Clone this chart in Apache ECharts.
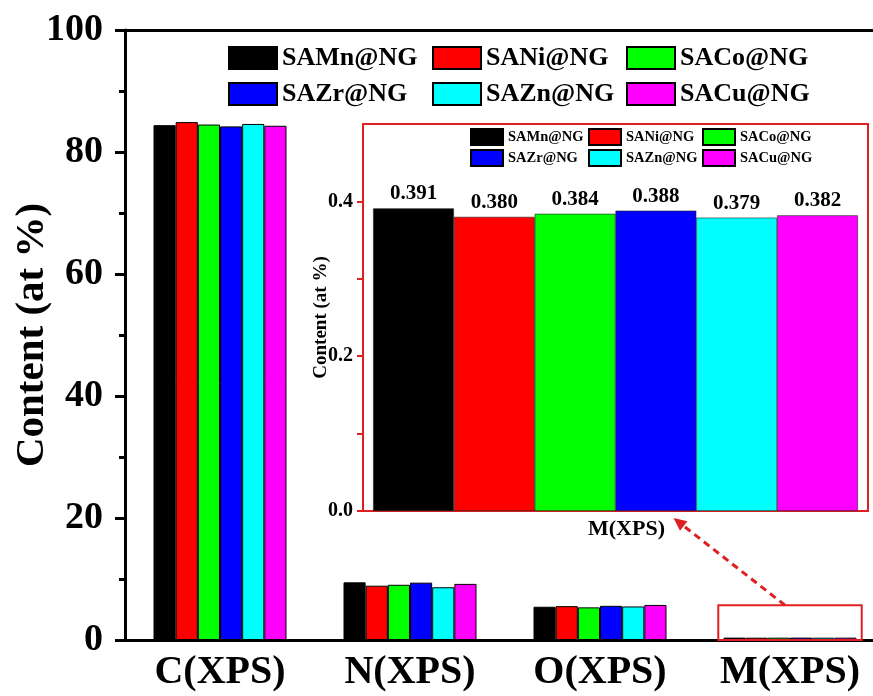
<!DOCTYPE html>
<html>
<head>
<meta charset="utf-8">
<script src="https://cdn.jsdelivr.net/npm/echarts@6/dist/echarts.min.js"></script>
<style>html,body{margin:0;padding:0;background:#fff}#c{width:873px;height:696px}</style>
</head>
<body>
<div id="c"></div>
<script>
const categories = ['C(XPS)', 'N(XPS)', 'O(XPS)', 'M(XPS)'];
const seriesNames = ['SAMn@NG', 'SANi@NG', 'SACo@NG', 'SAZr@NG', 'SAZn@NG', 'SACu@NG'];
const colors = ['#000000', '#ff0000', '#00ff00', '#0000ff', '#00ffff', '#ff00ff'];
const SAMn = [84.4, 9.45, 5.45, 0.391];
const SANi = [84.9, 8.9, 5.55, 0.380];
const SACo = [84.5, 9.05, 5.35, 0.384];
const SAZr = [84.2, 9.4, 5.6, 0.388];
const SAZn = [84.6, 8.65, 5.5, 0.379];
const SACu = [84.3, 9.2, 5.75, 0.382];
const mainValues = [SAMn, SANi, SACo, SAZr, SAZn, SACu];
const insetCategories = ['M(XPS)'];
const insetValues = [0.391, 0.380, 0.384, 0.388, 0.379, 0.382];
const mainTickLabels = ['0', '20', '40', '60', '80', '100'];
const insetTickLabels = ['0.0', '0.2', '0.4'];
const boxTopValue = 5.7;

const FONT = "'Liberation Serif','Times New Roman',serif";
const chart = echarts.init(document.getElementById('c'), null, {renderer: 'canvas'});

const series = [];
seriesNames.forEach((n, i) => {
  series.push({
    name: n, type: 'bar', xAxisIndex: 0, yAxisIndex: 0,
    data: mainValues[i], barGap: '0%', barCategoryGap: '30%',
    itemStyle: {color: colors[i], borderColor: '#000', borderWidth: 1},
    emphasis: {disabled: true}
  });
});
seriesNames.forEach((n, i) => {
  series.push({
    name: n, type: 'bar', xAxisIndex: 2, yAxisIndex: 1,
    data: [insetValues[i]], barGap: '0%', barCategoryGap: '4%',
    itemStyle: {color: colors[i], borderColor: '#222', borderWidth: 0.6},
    label: {show: true, position: 'top', distance: 4, fontFamily: FONT, fontWeight: 'bold', fontSize: 21, color: '#000',
      formatter: p => p.value.toFixed(3)},
    emphasis: {disabled: true}
  });
});

// legends laid out as 3 columns of 2 rows
const mainCols = [228, 432, 626];
const insetCols = [470, 588, 702];
const legends = [];
for (let c = 0; c < 3; c++) {
  legends.push({data: [seriesNames[c], seriesNames[c + 3]], orient: 'vertical', left: mainCols[c], top: 45, padding: 0,
    itemWidth: 48, itemHeight: 22, itemGap: 10, icon: 'rect', selectedMode: false,
    textStyle: {fontFamily: FONT, fontWeight: 'bold', fontSize: 26, color: '#000'}});
  legends.push({data: [seriesNames[c], seriesNames[c + 3]], orient: 'vertical', left: insetCols[c], top: 128, padding: 0,
    itemWidth: 32, itemHeight: 16, itemGap: 3, icon: 'rect', selectedMode: false,
    textStyle: {fontFamily: FONT, fontWeight: 'bold', fontSize: 14.5, color: '#000'}});
}

chart.setOption({
  animation: false,
  backgroundColor: '#fff',
  grid: [
    {left: 125, top: 30, width: 760, bottom: 56, outerBoundsMode: 'none', containLabel: false},
    {left: 363, top: 124, right: 5, bottom: 185, outerBoundsMode: 'none', containLabel: false,
     show: true, backgroundColor: '#fff', borderWidth: 0}
  ],
  legend: legends,
  xAxis: [
    {type: 'category', gridIndex: 0, data: categories, position: 'bottom', z: 5,
     axisLine: {onZero: false, lineStyle: {color: '#000', width: 3}}, axisTick: {show: false},
     axisLabel: {fontFamily: FONT, fontWeight: 'bold', fontSize: 40, color: '#000', margin: 13}},
    {type: 'category', gridIndex: 0, data: categories, position: 'top',
     axisLine: {onZero: false, lineStyle: {color: '#000', width: 3}}, axisTick: {show: false}, axisLabel: {show: false}},
    {type: 'category', gridIndex: 1, data: insetCategories, position: 'bottom',
     axisLine: {onZero: false, lineStyle: {color: '#e02020', width: 2}}, axisTick: {show: false},
     axisLabel: {fontFamily: FONT, fontWeight: 'bold', fontSize: 22, color: '#000', margin: 7, padding: [0, 0, 0, 22]}},
    {type: 'category', gridIndex: 1, data: insetCategories, position: 'top',
     axisLine: {onZero: false, lineStyle: {color: '#e02020', width: 2}}, axisTick: {show: false}, axisLabel: {show: false}}
  ],
  yAxis: [
    {type: 'value', gridIndex: 0, min: 0, max: 100, interval: 20,
     name: 'Content (at %)', nameLocation: 'middle', nameRotate: 90, nameGap: 72, nameMoveOverlap: false,
     nameTextStyle: {fontFamily: FONT, fontWeight: 'bold', fontSize: 41, color: '#000'},
     axisLine: {show: true, onZero: false, lineStyle: {color: '#000', width: 3}},
     axisTick: {show: true, length: 10, lineStyle: {color: '#000', width: 3}},
     minorTick: {show: true, splitNumber: 2, length: 6, lineStyle: {color: '#000', width: 3}},
     splitLine: {show: false},
     axisLabel: {fontFamily: FONT, fontWeight: 'bold', fontSize: 38, color: '#000', margin: 22,
       formatter: v => mainTickLabels.indexOf(String(Math.round(v))) >= 0 ? String(Math.round(v)) : ''}},
    {type: 'value', gridIndex: 1, min: 0, max: 0.5, interval: 0.1,
     name: 'Content (at %)', nameLocation: 'middle', nameRotate: 90, nameGap: 32, nameMoveOverlap: false,
     nameTextStyle: {fontFamily: FONT, fontWeight: 'bold', fontSize: 19, color: '#000'},
     axisLine: {show: true, onZero: false, lineStyle: {color: '#e02020', width: 2}},
     axisTick: {show: true, length: 6, lineStyle: {color: '#e02020', width: 2}},
     splitLine: {show: false},
     axisLabel: {fontFamily: FONT, fontWeight: 'bold', fontSize: 20, color: '#000', margin: 10, showMaxLabel: false,
       formatter: v => { const s = v.toFixed(1); return insetTickLabels.indexOf(s) >= 0 ? s : ''; }}},
    {type: 'value', gridIndex: 1, min: 0, max: 0.5, position: 'right',
     axisLine: {show: true, onZero: false, lineStyle: {color: '#e02020', width: 2}},
     axisTick: {show: false}, axisLabel: {show: false}, splitLine: {show: false}}
  ],
  series: series
});

// annotation: red box around M(XPS) in main chart and dashed arrow to inset
const pBottom = chart.convertToPixel({xAxisIndex: 0, yAxisIndex: 0}, ['M(XPS)', 0]);
const pTop = chart.convertToPixel({xAxisIndex: 0, yAxisIndex: 0}, ['M(XPS)', boxTopValue]);
const band = chart.convertToPixel({xAxisIndex: 0}, 'O(XPS)');
const bandW = pBottom[0] - band;
const boxW = bandW * 0.755;
const insetBase = chart.convertToPixel({xAxisIndex: 2, yAxisIndex: 1}, ['M(XPS)', 0]);
const start = [pTop[0] - 5, pTop[1]];
const end = [insetBase[0] + 58, insetBase[1] + 7];
const ang = Math.atan2(end[1] - start[1], end[0] - start[0]);
const ah = 13, aw = 6;
const tip = end;
const base = [tip[0] - ah * Math.cos(ang), tip[1] - ah * Math.sin(ang)];
const left = [base[0] + aw * Math.sin(ang), base[1] - aw * Math.cos(ang)];
const right = [base[0] - aw * Math.sin(ang), base[1] + aw * Math.cos(ang)];
chart.setOption({
  graphic: [
    {type: 'rect', shape: {x: pTop[0] - boxW / 2, y: pTop[1], width: boxW, height: pBottom[1] - pTop[1]},
     style: {fill: 'none', stroke: '#e02020', lineWidth: 2}, z: 100},
    {type: 'line', shape: {x1: start[0], y1: start[1], x2: base[0], y2: base[1]},
     style: {stroke: '#e02020', lineWidth: 3, lineDash: [7, 5]}, z: 100},
    {type: 'polygon', shape: {points: [tip, left, right]}, style: {fill: '#e02020'}, z: 100}
  ]
});
</script>
</body>
</html>
